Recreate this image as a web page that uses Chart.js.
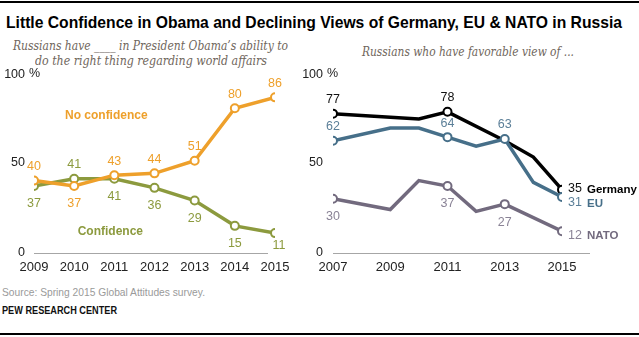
<!DOCTYPE html>
<html><head><meta charset="utf-8">
<script src="https://cdn.jsdelivr.net/npm/chart.js@4.4.1/dist/chart.umd.min.js"></script>
<style>
body{margin:0;width:639px;height:337px;position:relative;background:#fff;overflow:hidden;font-family:"Liberation Sans",Arial,sans-serif}
.t{position:absolute;white-space:nowrap;transform-origin:0 0;line-height:1}
.rule{position:absolute;left:0;width:639px;height:2px;background:#000}
#title{left:6px;top:14px;font-size:17px;font-weight:bold;color:#000}
.sub{font-family:"DejaVu Serif",Georgia,serif;font-style:italic;font-size:13px;color:#6f665c}
#src{left:2px;top:287px;font-size:11px;color:#9a9a9a}
#pew{left:2px;top:306px;font-size:10px;font-weight:bold;color:#111}
canvas{position:absolute}
</style></head>
<body>
<div class="rule" style="top:1px"></div>
<div class="rule" style="top:333px"></div>
<div id="title" class="t" data-w="616">Little Confidence in Obama and Declining Views of Germany, EU &amp; NATO in Russia</div>
<div class="t sub" style="left:13px;top:39px" data-w="275">Russians have ____ in President Obama’s ability to</div>
<div class="t sub" style="left:35px;top:54px" data-w="232">do the right thing regarding world affairs</div>
<div class="t sub" style="left:362px;top:45px" data-w="212">Russians who have favorable view of ...</div>
<div id="src" class="t" data-w="203">Source: Spring 2015 Global Attitudes survey.</div>
<div id="pew" class="t" data-w="115">PEW RESEARCH CENTER</div>
<canvas id="c1" width="300" height="230" style="left:0;top:60px"></canvas>
<canvas id="c2" width="339" height="230" style="left:300px;top:60px"></canvas>
<script>
// ---- data ----
const leftYears = [2009, 2010, 2011, 2012, 2013, 2014, 2015];
const noConfidence = [40, 37, 43, 44, 51, 80, 86];
const confidence = [37, 41, 41, 36, 29, 15, 11];
const rightYears = [2007, 2009, 2010, 2011, 2012, 2013, 2014, 2015];
const germany = [77, null, 74, 78, null, 62, 53, 35];
const eu = [62, 69, 69, 64, 59, 63, 39, 31];
const nato = [30, 24, 40, 37, 23, 27, null, 12];
const germanyMarked = [2007, 2011, 2015];
const euMarked = [2007, 2011, 2013, 2015];
const natoMarked = [2007, 2011, 2013, 2015];
const leftTicks = [2009, 2010, 2011, 2012, 2013, 2014, 2015];
const rightTicks = [2007, 2009, 2011, 2013, 2015];
const yTicks = [0, 50, 100];

// fit text widths
document.querySelectorAll('[data-w]').forEach(el => {
  const w = el.getBoundingClientRect().width;
  el.style.transform = 'scaleX(' + (parseFloat(el.dataset.w) / w) + ')';
});

const FONT = '"Liberation Sans", Arial, sans-serif';
const pts = (years, vals) => years.map((y, i) => ({x: y, y: vals[i]}));

const lblPlugin = {
  id: 'lbl',
  beforeDatasetsDraw(chart) {
    const o = chart.options.plugins.lbl, ctx = chart.ctx;
    const xs = chart.scales.x, ys = chart.scales.y;
    ctx.save();
    const y0 = Math.round(ys.getPixelForValue(0)) + 0.5;
    ctx.strokeStyle = '#a6a6a6'; ctx.lineWidth = 1;
    ctx.beginPath();
    ctx.moveTo(xs.getPixelForValue(xs.min), y0);
    ctx.lineTo(xs.getPixelForValue(xs.max) + o.zeroExtra, y0);
    ctx.stroke();
    ctx.font = '12.5px ' + FONT; ctx.fillStyle = '#222';
    ctx.textBaseline = 'middle';
    yTicks.forEach(v => {
      const y = ys.getPixelForValue(v) + (v === 100 ? 3 : 0);
      ctx.textAlign = 'right';
      ctx.fillText(String(v), o.yLabelRight, y);
      if (v === 100) { ctx.textAlign = 'left'; ctx.fillText('%', o.yLabelRight + 4, y - 1); }
    });
    ctx.textAlign = 'center';
    ctx.font = '13px ' + FONT; ctx.fillStyle = '#222';
    o.ticks.forEach(t => ctx.fillText(String(t), xs.getPixelForValue(t), y0 + 14));
    ctx.restore();
  },
  afterDatasetsDraw(chart) {
    const ctx = chart.ctx, xs = chart.scales.x, ys = chart.scales.y;
    ctx.save();
    ctx.textBaseline = 'middle';
    chart.data.datasets.forEach(ds => {
      ctx.fillStyle = ds.textColor;
      ctx.font = '12.5px ' + FONT;
      ds.data.forEach((p, i) => {
        const pos = ds.labelPos[i];
        if (!pos || p.y === null) return;
        const px = xs.getPixelForValue(p.x), py = ys.getPixelForValue(p.y);
        if (pos === 'a') { ctx.textAlign = 'center'; ctx.fillText(p.y, px, py - 14); }
        else if (pos === 'b') { ctx.textAlign = 'center'; ctx.fillText(p.y, px, py + 18); }
        else if (pos === 'c') { ctx.textAlign = 'center'; ctx.fillText(p.y, px + 4, py + 12); }
        else if (pos === 'r') {
          ctx.textAlign = 'left';
          ctx.fillText(p.y, px + 6, py + ds.endDy);
          ctx.font = 'bold 11.5px ' + FONT;
          ctx.fillStyle = ds.nameColor;
          ctx.fillText(ds.label, px + 25, py + ds.endDy + 1);
          ctx.font = '12.5px ' + FONT; ctx.fillStyle = ds.textColor;
        }
      });
      if (ds.nameAt) {
        ctx.font = 'bold 12px ' + FONT; ctx.fillStyle = ds.nameColor; ctx.textAlign = 'center';
        ctx.fillText(ds.label, xs.getPixelForValue(ds.nameAt[0]), ys.getPixelForValue(ds.nameAt[1]));
      }
    });
    ctx.restore();
  }
};

function lineDs(label, years, vals, color, marked, extra) {
  return Object.assign({
    label, data: pts(years, vals), borderColor: color, borderWidth: 3.5,
    pointBackgroundColor: '#fff', pointBorderColor: color, pointBorderWidth: 2,
    pointRadius: c => marked.includes(c.raw && c.raw.x) ? 4 : 0,
    tension: 0, spanGaps: true, fill: false
  }, extra);
}

const baseOpts = (pad, xmin, xmax, o) => ({
  responsive: false, animation: false, events: [],
  layout: {padding: pad},
  scales: {
    x: {type: 'linear', min: xmin, max: xmax, display: false},
    y: {type: 'linear', min: 0, max: 100, display: false}
  },
  plugins: {legend: {display: false}, tooltip: {enabled: false}, lbl: o}
});

new Chart(document.getElementById('c1'), {
  type: 'line',
  data: {datasets: [
    lineDs('No confidence', leftYears, noConfidence, '#eea02b', leftYears, {
      order: 0, textColor: '#eea02b', nameColor: '#eea02b',
      labelPos: ['a', 'b', 'a', 'a', 'a', 'a', 'a'], nameAt: [2010.8, 76]}),
    lineDs('Confidence', leftYears, confidence, '#8c9a3e', leftYears, {
      order: 1, textColor: '#8c9a3e', nameColor: '#8c9a3e',
      labelPos: ['b', 'a', 'b', 'b', 'b', 'b', 'c'], nameAt: [2010.9, 12]})
  ]},
  options: baseOpts({left: 34, right: 25, top: 12, bottom: 37}, 2009, 2015,
    {zeroExtra: -7, yLabelRight: 25, ticks: leftTicks}),
  plugins: [lblPlugin]
});

new Chart(document.getElementById('c2'), {
  type: 'line',
  data: {datasets: [
    lineDs('Germany', rightYears, germany, '#000000', germanyMarked, {
      order: 1, textColor: '#111', nameColor: '#000', endDy: -1,
      labelPos: ['a', null, null, 'a', null, null, null, 'r']}),
    lineDs('EU', rightYears, eu, '#466f89', euMarked, {
      order: 0, textColor: '#5b7f98', nameColor: '#466f89', endDy: 6,
      labelPos: ['a', null, null, 'a', null, 'a', null, 'r']}),
    lineDs('NATO', rightYears, nato, '#726a7e', natoMarked, {
      order: 2, textColor: '#8a8396', nameColor: '#726a7e', endDy: 4,
      labelPos: ['b', null, null, 'b', null, 'b', null, 'r']})
  ]},
  options: baseOpts({left: 33, right: 77, top: 12, bottom: 37}, 2007, 2015,
    {zeroExtra: 28, yLabelRight: 23, ticks: rightTicks}),
  plugins: [lblPlugin]
});
</script>
</body></html>
